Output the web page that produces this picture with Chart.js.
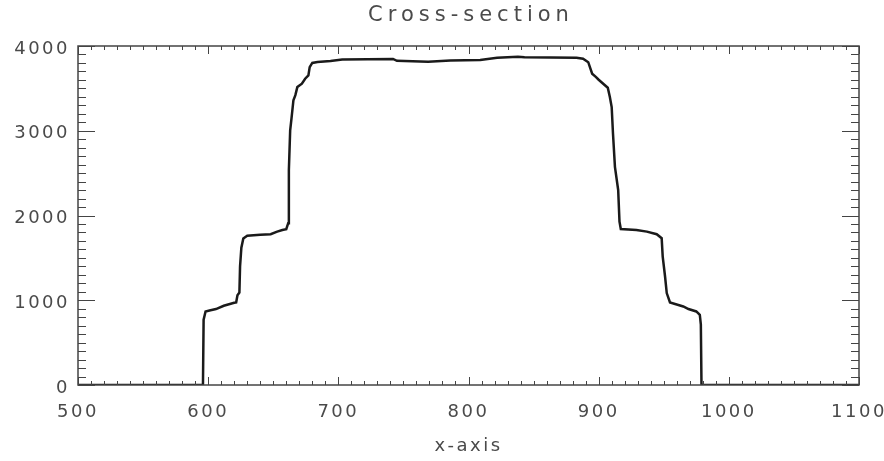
<!DOCTYPE html>
<html>
<head>
<meta charset="utf-8">
<script src="https://cdn.jsdelivr.net/npm/chart.js@4"></script>
<style>
  html, body { margin: 0; padding: 0; background: #fff; }
  canvas { display: block; }
</style>
</head>
<body>
<canvas id="chart" width="884" height="461"></canvas>
<script>
// profile
const xValues = [500, 596, 596.5, 598, 601, 606, 612, 620, 621.5, 622.5, 624, 624.5, 625.5, 627, 630, 640, 648, 653, 657, 660,
    661.5, 662, 663, 664, 665.5, 667, 668.5, 672, 674.5, 677, 678, 680, 684, 694, 703, 742, 745, 769, 786, 809,
    822, 838, 843, 883, 888, 892, 895, 898, 900, 907, 908.6, 910, 911, 912.5, 915, 916, 917, 929, 937, 944.6,
    948.4, 949.2, 951, 952.3, 954.8, 965, 969, 975, 977.7, 978.5, 979, 1100];
const yValues = [0, 0, 770, 868, 880, 896, 935, 970, 975, 1060, 1090, 1400, 1620, 1730, 1762, 1772, 1780, 1810, 1829, 1838,
    1910, 2535, 3006, 3143, 3360, 3420, 3515, 3555, 3614, 3653, 3751, 3800, 3812, 3822, 3842, 3848, 3825, 3815, 3828, 3836,
    3860, 3873, 3866, 3862, 3849, 3809, 3673, 3633, 3602, 3508, 3398, 3280, 2967, 2574, 2300, 1927, 1841, 1829, 1810, 1779,
    1732, 1515, 1280, 1085, 974, 927, 896, 868, 829, 712, 0, 0];

const xTicks = [500, 600, 700, 800, 900, 1000, 1100];
const yTicks = [0, 1000, 2000, 3000, 4000];
const xMinorStep = 10;
const yMinorStep = 100;

const textColor = '#4a4a4a';
const frameColor = '#444';

const idlPlugin = {
    id: 'idlStyle',
    beforeLayout(chart) {
        chart.ctx.letterSpacing = '2.5px';
    },
    beforeDraw(chart) {
        chart.ctx.letterSpacing = '2.5px';
    },
    afterDraw(chart) {
        const ctx = chart.ctx;
        const area = chart.chartArea;
        const sx = chart.scales.x;
        const sy = chart.scales.y;
        ctx.save();
        ctx.strokeStyle = frameColor;
        ctx.lineWidth = 1.5;
        ctx.strokeRect(area.left, area.top, area.right - area.left, area.bottom - area.top);

        ctx.lineWidth = 1;
        ctx.beginPath();
        // inward ticks on bottom and top
        for (let v = xTicks[0]; v <= xTicks[xTicks.length - 1]; v += xMinorStep) {
            const px = Math.round(sx.getPixelForValue(v)) + 0.5;
            const len = xTicks.includes(v) ? 8 : 4;
            ctx.moveTo(px, area.bottom);
            ctx.lineTo(px, area.bottom - len);
            ctx.moveTo(px, area.top);
            ctx.lineTo(px, area.top + len);
        }
        // inward ticks on left and right
        for (let v = yTicks[0]; v <= yTicks[yTicks.length - 1]; v += yMinorStep) {
            const py = Math.round(sy.getPixelForValue(v)) + 0.5;
            const len = yTicks.includes(v) ? 17 : 8;
            ctx.moveTo(area.left, py);
            ctx.lineTo(area.left + len, py);
            ctx.moveTo(area.right, py);
            ctx.lineTo(area.right - len, py);
        }
        ctx.stroke();

        // title
        ctx.letterSpacing = '5px';
        ctx.font = '21px "DejaVu Sans"';
        ctx.fillStyle = textColor;
        ctx.textAlign = 'center';
        ctx.textBaseline = 'middle';
        ctx.fillText('Cross-section', (area.left + area.right) / 2 + 2.5, 16);
        ctx.restore();
    }
};

new Chart(document.getElementById('chart'), {
    type: 'line',
    data: {
        datasets: [{
            data: xValues.map((x, i) => ({ x: x, y: yValues[i] })),
            borderColor: '#1a1a1a',
            borderWidth: 2.5,
            pointRadius: 0,
            tension: 0,
            fill: false
        }]
    },
    options: {
        responsive: false,
        animation: false,
        devicePixelRatio: 1,
        layout: { padding: { top: 46, right: 25, left: 0, bottom: 0 } },
        plugins: {
            legend: { display: false },
            tooltip: { enabled: false },
            title: { display: false }
        },
        scales: {
            x: {
                type: 'linear',
                min: 500,
                max: 1100,
                grid: { display: false, drawTicks: false },
                border: { display: false },
                ticks: {
                    stepSize: 100,
                    padding: 17,
                    color: textColor,
                    font: { family: 'DejaVu Sans', size: 18 },
                    maxRotation: 0,
                    autoSkip: false,
                    callback: value => String(value)
                },
                title: {
                    display: true,
                    text: 'x-axis',
                    color: textColor,
                    font: { family: 'DejaVu Sans', size: 18 },
                    padding: { top: 0, bottom: 4 }
                },
                afterFit(scale) {
                    scale.height = 76;
                    scale.paddingLeft = 0;
                    scale.paddingRight = 0;
                }
            },
            y: {
                min: 0,
                max: 4000,
                grid: { display: false, drawTicks: false },
                border: { display: false },
                ticks: {
                    stepSize: 1000,
                    padding: 8,
                    labelOffset: 3,
                    color: textColor,
                    font: { family: 'DejaVu Sans', size: 18 },
                    callback: value => String(value)
                },
                afterFit(scale) {
                    scale.width = 78;
                }
            }
        }
    },
    plugins: [idlPlugin]
});
</script>
</body>
</html>
